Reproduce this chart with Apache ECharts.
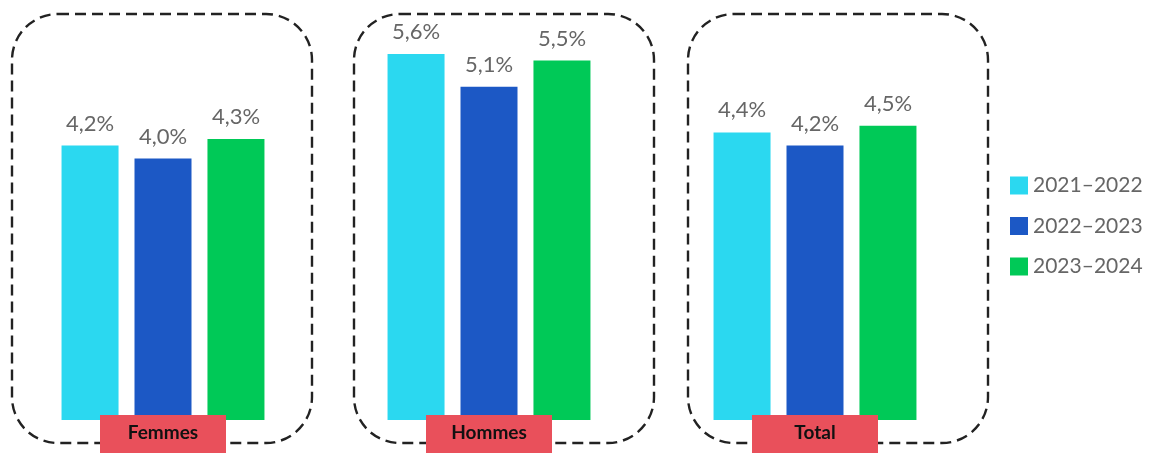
<!DOCTYPE html>
<html><head><meta charset="utf-8">
<script src="https://cdn.jsdelivr.net/npm/echarts@6/dist/echarts.min.js"></script>
<style>html,body{margin:0;padding:0;background:#fff}#c{width:1159px;height:453px}</style>
</head><body><div id="c"></div>
<script>
const categories = ['Femmes', 'Hommes', 'Total'];
const seriesNames = ['2021–2022', '2022–2023', '2023–2024'];
const values2021 = [4.2, 5.6, 4.4];
const values2022 = [4.0, 5.1, 4.2];
const values2023 = [4.3, 5.5, 4.5];
const colors = ['#2BD8F0', '#1C58C5', '#00C957'];

const chart = echarts.init(document.getElementById('c'));
const fontFam = 'Lato, "Open Sans", sans-serif';
const mk = (name, data, color) => ({
  name, type: 'bar', data, barWidth: 57, barGap: '28%',
  itemStyle: { color },
  label: { show: true, position: 'top', distance: 11, color: '#666', fontSize: 22, fontFamily: fontFam,
    formatter: p => p.value.toFixed(1).replace('.', ',') + '%' }
});
chart.setOption({
  animation: false,
  grid: { left: 0, right: 181, top: 27.8, bottom: 31 },
  legend: { orient: 'vertical', left: 1005, top: 170, itemWidth: 18, itemHeight: 18, itemGap: 19.5,
    icon: 'rect', textStyle: { color: '#666', fontSize: 21, fontFamily: fontFam } },
  xAxis: { type: 'category', data: categories, z: 5,
    axisLine: { show: false }, axisTick: { show: false },
    axisLabel: { margin: -5, backgroundColor: '#E9505B', color: '#111', fontWeight: 'bold', fontSize: 19,
      fontFamily: fontFam, width: 126, align: 'center', padding: [8, 0, 11, 0], verticalAlign: 'top' } },
  yAxis: { type: 'value', min: 0, max: 6, show: false, splitLine: { show: false } },
  series: [mk(seriesNames[0], values2021, colors[0]), mk(seriesNames[1], values2022, colors[1]), mk(seriesNames[2], values2023, colors[2])]
});
const boxDx = [-151, -135, -127];
const graphics = categories.map((c, i) => {
  const cx = chart.convertToPixel({ xAxisIndex: 0 }, c);
  return { type: 'rect', z: 0, shape: { x: cx + boxDx[i], y: 14, width: 300, height: 429, r: 46 },
    style: { fill: 'none', stroke: '#222', lineWidth: 2.4, lineDash: [11, 6] } };
});
chart.setOption({ graphic: graphics });
</script></body></html>
